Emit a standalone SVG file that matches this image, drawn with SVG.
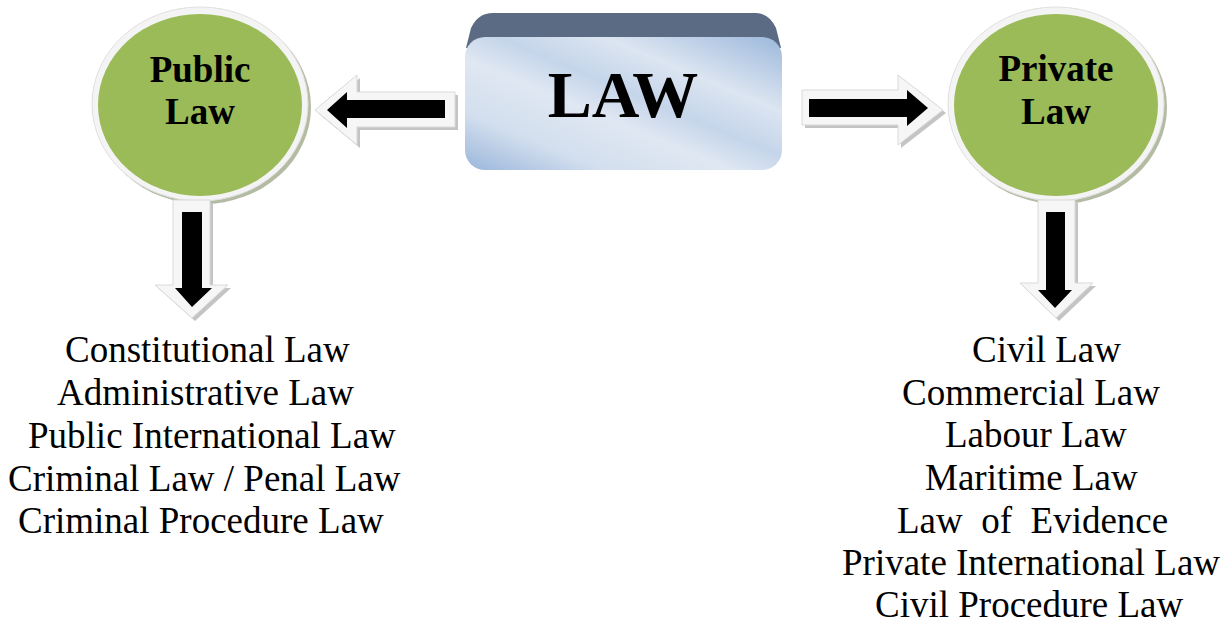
<svg xmlns="http://www.w3.org/2000/svg" width="1229" height="625" viewBox="0 0 1229 625">
<defs>
<linearGradient id="face" x1="0" y1="1" x2="1" y2="0">
<stop offset="0" stop-color="#9ab6db"/>
<stop offset="0.22" stop-color="#d3dfee"/>
<stop offset="0.42" stop-color="#dfe7f2"/>
<stop offset="0.55" stop-color="#c5d5ea"/>
<stop offset="0.72" stop-color="#dce5f1"/>
<stop offset="1" stop-color="#9cb8dc"/>
</linearGradient>
</defs>
<style>
.title{font-family:"Liberation Serif","Times New Roman",serif;font-weight:bold;font-size:37px;fill:#000;text-anchor:middle}
.big{font-family:"Liberation Serif","Times New Roman",serif;font-weight:bold;font-size:66px;fill:#000;text-anchor:middle}
.item{font-family:"Liberation Serif","Times New Roman",serif;font-size:37px;fill:#000;white-space:pre}
.ring{fill:#f4f4f4;stroke:#e0e0e0;stroke-width:1}
.cshadow{fill:#b3bca3}
.green{fill:#9bbb59}
.aw{fill:#f6f6f6;stroke:#d9d9d9;stroke-width:1}
.ash{fill:#c4c4c4}
.ab{fill:#000}
</style>

<g id="law">
<path d="M493,13 L756,13 Q769,13 776,28 L781,48 L466,48 L471,28 Q478,13 493,13 Z" fill="#5a6b83"/>
<rect x="465" y="37" width="317" height="133" rx="20" ry="20" fill="url(#face)"/>
<text class="big" x="623" y="117">LAW</text>
</g>

<g id="public-law">
<ellipse class="cshadow" cx="203" cy="107" rx="108" ry="97"/>
<ellipse class="ring" cx="200" cy="104" rx="108" ry="97"/>
<ellipse class="green" cx="200" cy="105" rx="102" ry="91"/>
<text class="title" x="200" y="82">Public</text>
<text class="title" x="200" y="124">Law</text>
</g>

<g id="private-law">
<ellipse class="cshadow" cx="1059" cy="107" rx="108" ry="97"/>
<ellipse class="ring" cx="1056" cy="104" rx="108" ry="97"/>
<ellipse class="green" cx="1056" cy="105" rx="102" ry="91"/>
<text class="title" x="1056" y="81">Private</text>
<text class="title" x="1056" y="124">Law</text>
</g>

<g id="connectors">
<g id="arrow-left">
<polygon class="ash" points="318,113 360,78 360,95 458,95 458,130 360,130 360,148"/>
<polygon class="aw" points="315,110 357,75 357,92 455,92 455,127 357,127 357,145"/>
<polygon class="ab" points="327,110 347,92 347,100 445,100 445,118 347,118 347,128"/>
</g>
<g id="arrow-right">
<polygon class="ash" points="805,93 901,93 901,78 946,113 901,148 901,128 805,128"/>
<polygon class="aw" points="802,90 898,90 898,75 943,110 898,145 898,125 802,125"/>
<polygon class="ab" points="809,99 907,99 907,90 928,108 907,126 907,117 809,117"/>
</g>
<g id="arrow-down-left">
<polygon class="ash" points="176,203 213,203 213,288 231,288 195,321 158,288 176,288"/>
<polygon class="aw" points="173,200 210,200 210,285 228,285 192,318 155,285 173,285"/>
<polygon class="ab" points="182,212 202,212 202,288 212,288 192,307 175,288 182,288"/>
</g>
<g id="arrow-down-right">
<polygon class="ash" points="1041,203 1078,203 1078,286 1096,286 1059,321 1023,286 1041,286"/>
<polygon class="aw" points="1038,200 1075,200 1075,283 1093,283 1056,318 1020,283 1038,283"/>
<polygon class="ab" points="1046,212 1065,212 1065,290 1072,290 1055,308 1038,290 1046,290"/>
</g>
</g>

<g id="public-list">
<text class="item" x="65" y="362">Constitutional Law</text>
<text class="item" x="57" y="405">Administrative Law</text>
<text class="item" x="28" y="448">Public International Law</text>
<text class="item" x="8" y="491">Criminal Law / Penal Law</text>
<text class="item" x="18" y="533">Criminal Procedure Law</text>
</g>

<g id="private-list">
<text class="item" x="972" y="362">Civil Law</text>
<text class="item" x="902" y="405">Commercial Law</text>
<text class="item" x="945" y="447">Labour Law</text>
<text class="item" x="925" y="490">Maritime Law</text>
<text class="item" x="897" y="533">Law  of  Evidence</text>
<text class="item" x="842" y="575">Private International Law</text>
<text class="item" x="875" y="617">Civil Procedure Law</text>
</g>
</svg>
